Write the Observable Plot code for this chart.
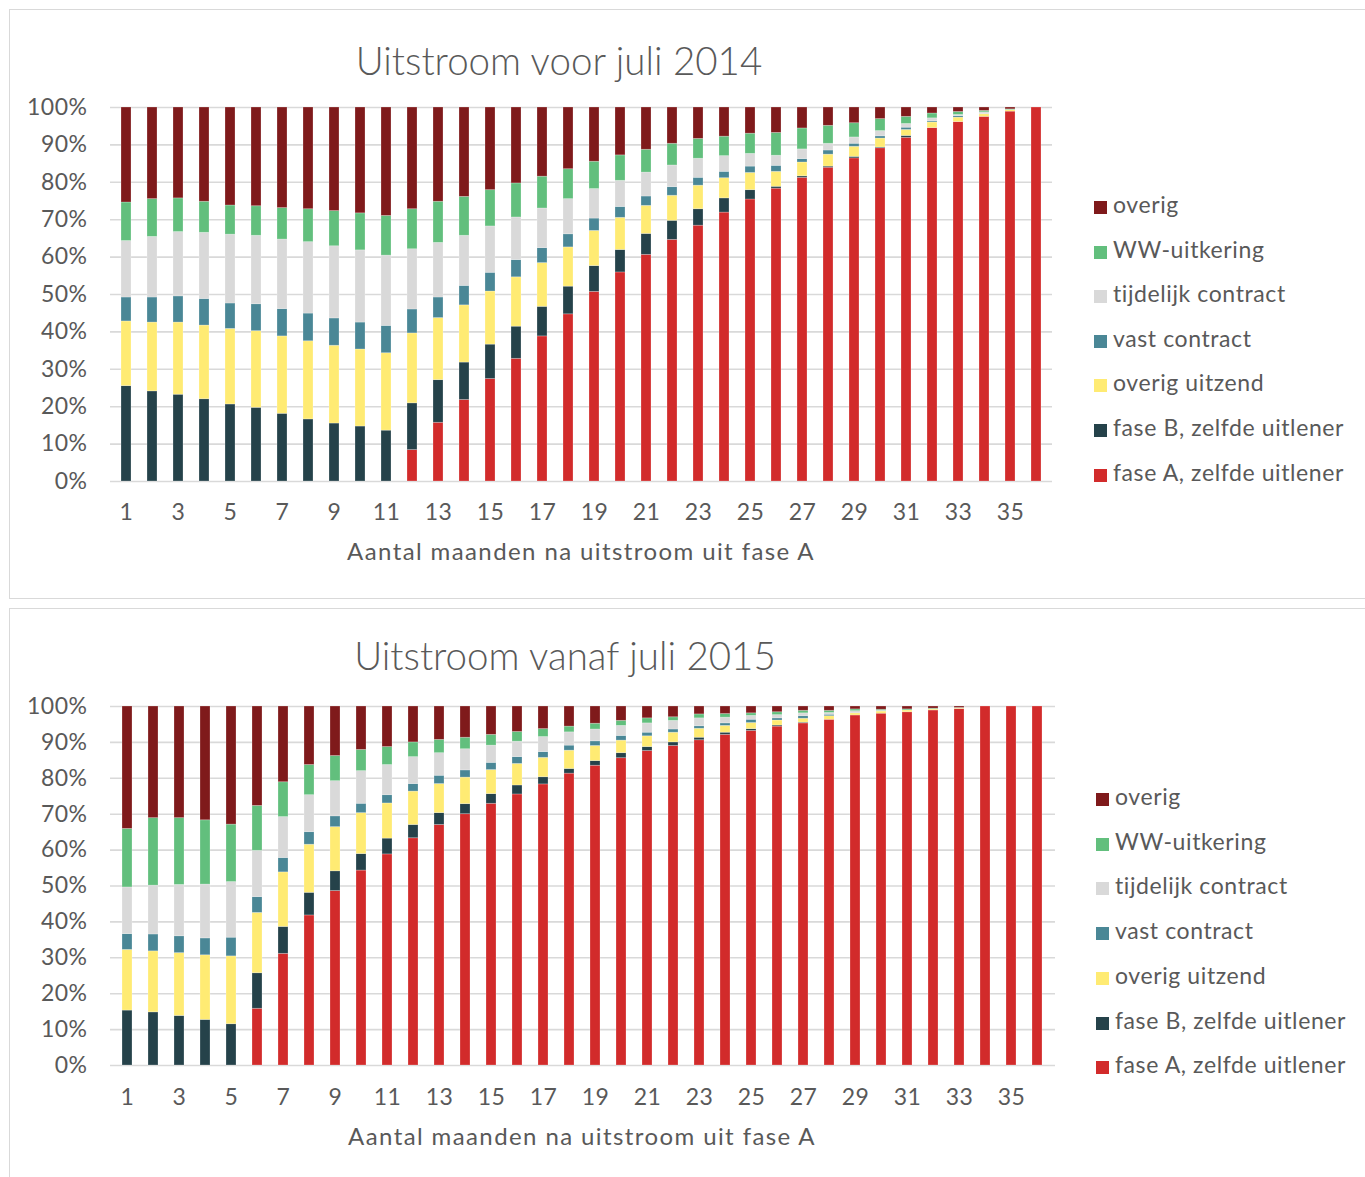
<!DOCTYPE html>
<html>
<head>
<meta charset="utf-8">
<script src="https://cdn.jsdelivr.net/npm/d3@7"></script>
<script src="https://cdn.jsdelivr.net/npm/@observablehq/plot@0.6"></script>
<style>
  html, body { margin: 0; padding: 0; background: #fff; }
  #page { position: relative; width: 1365px; height: 1177px; overflow: hidden; font-family: Lato, "Open Sans", sans-serif; color: #595959; }
  .panel { position: absolute; left: 9px; width: 1380px; border: 1.5px solid #d9d9d9; box-sizing: border-box; }
  .title { position: absolute; width: 700px; text-align: center; font-size: 38.5px; line-height: 40px; font-weight: 300; color: #595959; white-space: nowrap; }
  .axtitle { position: absolute; width: 700px; text-align: center; font-size: 24px; letter-spacing: 1.4px; line-height: 26px; color: #595959; white-space: nowrap; }
  .chart { position: absolute; left: 0; }
  .legend { position: absolute; }
  .legend .item { position: absolute; left: 0; height: 26px; line-height: 26px; font-size: 23px; letter-spacing: 0.6px; white-space: nowrap; color: #595959; }
  .legend .sw { display: inline-block; width: 13px; height: 13px; margin-right: 6px; vertical-align: -1px; }
</style>
</head>
<body>
<div id="page"></div>
<script>
// ---- categories ----
const months = [1,2,3,4,5,6,7,8,9,10,11,12,13,14,15,16,17,18,19,20,21,22,23,24,25,26,27,28,29,30,31,32,33,34,35,36];
const xTickLabels = [1,3,5,7,9,11,13,15,17,19,21,23,25,27,29,31,33,35];
const yTicks = [0,0.1,0.2,0.3,0.4,0.5,0.6,0.7,0.8,0.9,1];
// stacking order bottom -> top
const seriesNames = ["fase A, zelfde uitlener","fase B, zelfde uitlener","overig uitzend","vast contract","tijdelijk contract","WW-uitkering","overig"];
const seriesColors = ["#d22b2b","#25424a","#ffeb73","#4a8796","#d9d9d9","#62bf7d","#7f1a1b"];
const legendOrder = ["overig","WW-uitkering","tijdelijk contract","vast contract","overig uitzend","fase B, zelfde uitlener","fase A, zelfde uitlener"];

// ---- Uitstroom voor juli 2014 (percentages) ----
const top_faseA   = [0,0,0,0,0,0,0,0,0,0,0,8.4,15.7,21.8,27.4,32.8,38.8,44.7,50.7,55.9,60.6,64.6,68.4,71.9,75.4,78.3,81.2,83.9,86.4,89.1,91.9,94.5,96.1,97.5,98.9,100];
const top_faseB   = [25.5,24.1,23.2,22.0,20.6,19.7,18.1,16.6,15.5,14.7,13.6,12.5,11.4,10.0,9.2,8.6,7.9,7.4,6.9,6.0,5.6,5.1,4.4,3.8,2.5,0.5,0.4,0.3,0.4,0.2,0.5,0,0,0,0,0];
const top_uitzend = [17.3,18.4,19.3,19.7,20.2,20.5,20.7,20.9,20.8,20.6,20.7,18.7,16.6,15.3,14.2,13.2,11.7,10.5,9.4,8.6,7.5,6.7,6.3,5.4,4.6,4.0,3.7,3.2,2.7,2.4,1.6,1.5,1.2,0.7,0.4,0];
const top_vast    = [6.4,6.7,7.0,7.1,6.8,7.2,7.3,7.4,7.3,7.2,7.3,6.4,5.5,5.2,5.0,4.6,4.0,3.5,3.3,2.9,2.5,2.3,2.1,1.7,1.7,1.6,0.9,1.1,0.8,0.6,0.6,0.3,0.4,0,0,0];
const top_tijd    = [15.1,16.2,17.2,17.7,18.4,18.3,18.6,19.1,19.3,19.3,18.8,16.1,14.6,13.4,12.4,11.4,10.6,9.4,7.9,7.0,6.4,5.8,5.1,4.2,3.4,2.7,2.6,1.8,1.7,1.4,1.0,0.8,0.3,0.5,0,0];
const top_ww      = [10.3,10.1,9.0,8.3,7.8,7.9,8.4,8.8,9.4,9.9,10.6,10.7,11.0,10.4,9.7,9.1,8.5,8.0,7.3,6.8,6.1,5.8,5.3,5.2,5.4,6.1,5.6,4.8,3.8,3.2,1.9,1.3,0.8,0.4,0.2,0];
const top_overig  = [25.4,24.5,24.3,25.2,26.2,26.4,26.9,27.2,27.7,28.3,29.0,27.2,25.2,23.9,22.1,20.3,18.5,16.5,14.5,12.8,11.3,9.7,8.4,7.8,7.0,6.8,5.6,4.9,4.2,3.1,2.5,1.6,1.2,0.9,0.5,0];

// ---- Uitstroom vanaf juli 2015 (percentages) ----
const bot_faseA   = [0,0,0,0,0,15.8,31.1,41.8,48.6,54.3,58.8,63.3,67.0,70.0,72.9,75.5,78.3,81.3,83.5,85.6,87.6,89.0,90.6,92.1,93.2,94.4,95.3,96.3,97.5,98.0,98.4,98.9,99.3,100,100,100];
const bot_faseB   = [15.3,14.8,13.8,12.7,11.5,9.9,7.5,6.3,5.5,4.6,4.4,3.7,3.3,2.8,2.7,2.5,2.0,1.3,1.3,1.4,1.1,1.0,0.7,0.6,0.5,0.3,0.2,0,0,0,0,0,0,0,0,0];
const bot_uitzend = [16.9,17.0,17.5,18.0,18.9,16.8,15.2,13.4,12.3,11.4,9.8,9.3,8.1,7.4,6.7,6.0,5.4,5.1,4.2,3.5,3.0,2.7,2.5,1.9,1.7,1.4,1.1,1.0,0.6,0.6,0.5,0.3,0.2,0,0,0];
const bot_vast    = [4.4,4.7,4.7,4.7,5.2,4.4,4.0,3.5,3.0,2.6,2.3,2.1,2.3,2.0,2.0,1.9,1.6,1.4,1.3,1.3,1.0,0.9,0.7,0.7,0.9,0.6,0.7,0.4,0,0,0,0,0,0,0,0];
const bot_tijd    = [13.0,13.6,14.3,15.0,15.5,12.9,11.4,10.3,9.8,9.1,8.4,7.5,6.3,5.9,4.8,4.3,4.2,3.7,3.3,2.8,2.6,2.4,2.2,1.6,1.1,0.9,0.8,0.5,0.6,0.2,0,0,0,0,0,0];
const bot_ww      = [16.3,18.8,18.6,17.9,16.0,12.5,9.7,8.4,7.0,5.9,5.0,4.1,3.7,3.2,3.0,2.7,2.2,1.6,1.6,1.4,1.4,1.0,1.1,1.0,0.7,0.8,0.7,0.6,0.5,0.3,0.3,0.2,0.1,0,0,0];
const bot_overig  = [34.1,31.1,31.1,31.7,32.9,27.7,21.1,16.3,13.8,12.1,11.3,10.0,9.3,8.7,7.9,7.1,6.3,5.6,4.8,4.0,3.3,3.0,2.2,2.1,1.9,1.6,1.2,1.2,0.8,0.9,0.8,0.6,0.4,0,0,0];

function tidy(arrays) {
  const rows = [];
  months.forEach((m, i) => {
    arrays.forEach((arr, s) => rows.push({month: m, series: seriesNames[s], value: arr[i]}));
  });
  return rows;
}

const topData = tidy([top_faseA, top_faseB, top_uitzend, top_vast, top_tijd, top_ww, top_overig]);
const botData = tidy([bot_faseA, bot_faseB, bot_uitzend, bot_vast, bot_tijd, bot_ww, bot_overig]);

function makeChart(data, opts) {
  return Plot.plot({
    width: 1075,
    height: opts.height,
    marginTop: opts.marginTop,
    marginBottom: opts.marginBottom,
    marginLeft: 110,
    marginRight: opts.marginRight,
    style: {fontFamily: "Lato, 'Open Sans', sans-serif", fontSize: "23px", letterSpacing: "0.5px", color: "#595959", background: "transparent", overflow: "visible"},
    x: {type: "band", domain: months, paddingInner: 0.6, paddingOuter: 0.3, label: null},
    y: {domain: [0, 1], label: null},
    color: {domain: seriesNames, range: seriesColors},
    marks: [
      Plot.gridY(yTicks, {stroke: "#d9d9d9", strokeOpacity: 1, strokeWidth: 1.6}),
      Plot.barY(data, Plot.stackY({offset: "normalize"}, {
        x: "month", y: "value", fill: "series",
        stroke: "#ffffff", strokeOpacity: 0.3, strokeWidth: 0.8
      })),
      Plot.axisY({ticks: yTicks, tickFormat: d3.format(".0%"), tickSize: 0, tickPadding: 23, label: null}),
      Plot.axisX({ticks: xTickLabels, tickSize: 0, tickPadding: opts.xPad, label: null})
    ]
  });
}

const page = document.getElementById("page");

function addPanel(cfg) {
  const box = document.createElement("div");
  box.className = "panel";
  box.style.top = cfg.boxTop + "px";
  box.style.height = cfg.boxHeight + "px";
  page.appendChild(box);

  const chart = makeChart(cfg.data, cfg.chart);
  chart.classList.add("chart");
  chart.style.top = cfg.svgTop + "px";
  chart.style.position = "absolute";
  page.appendChild(chart);

  const t = document.createElement("div");
  t.className = "title";
  t.textContent = cfg.title;
  t.style.left = (cfg.titleX - 350) + "px";
  t.style.top = (cfg.titleY - 20) + "px";
  page.appendChild(t);

  const a = document.createElement("div");
  a.className = "axtitle";
  a.textContent = "Aantal maanden na uitstroom uit fase A";
  a.style.left = (cfg.axX - 350) + "px";
  a.style.top = (cfg.axY - 13) + "px";
  page.appendChild(a);

  const lg = document.createElement("div");
  lg.className = "legend";
  lg.style.left = cfg.legX + "px";
  lg.style.top = "0px";
  legendOrder.forEach((name, i) => {
    const it = document.createElement("div");
    it.className = "item";
    it.style.top = (cfg.legY0 + i * cfg.legStep - 13) + "px";
    const sw = document.createElement("span");
    sw.className = "sw";
    sw.style.background = seriesColors[seriesNames.indexOf(name)];
    it.appendChild(sw);
    it.appendChild(document.createTextNode(name));
    lg.appendChild(it);
  });
  page.appendChild(lg);
}

addPanel({
  data: topData, boxTop: 9, boxHeight: 590, svgTop: 90,
  chart: {height: 445, marginTop: 17, marginBottom: 54, marginRight: 23, xPad: 22},
  title: "Uitstroom voor juli 2014", titleX: 559, titleY: 60,
  axX: 581, axY: 551,
  legX: 1094, legY0: 204, legStep: 44.6
});

addPanel({
  data: botData, boxTop: 608, boxHeight: 600, svgTop: 690,
  chart: {height: 445, marginTop: 16, marginBottom: 70, marginRight: 20, xPad: 23},
  title: "Uitstroom vanaf juli 2015", titleX: 565, titleY: 655,
  axX: 582, axY: 1136,
  legX: 1096, legY0: 796, legStep: 44.7
});
</script>
</body>
</html>
